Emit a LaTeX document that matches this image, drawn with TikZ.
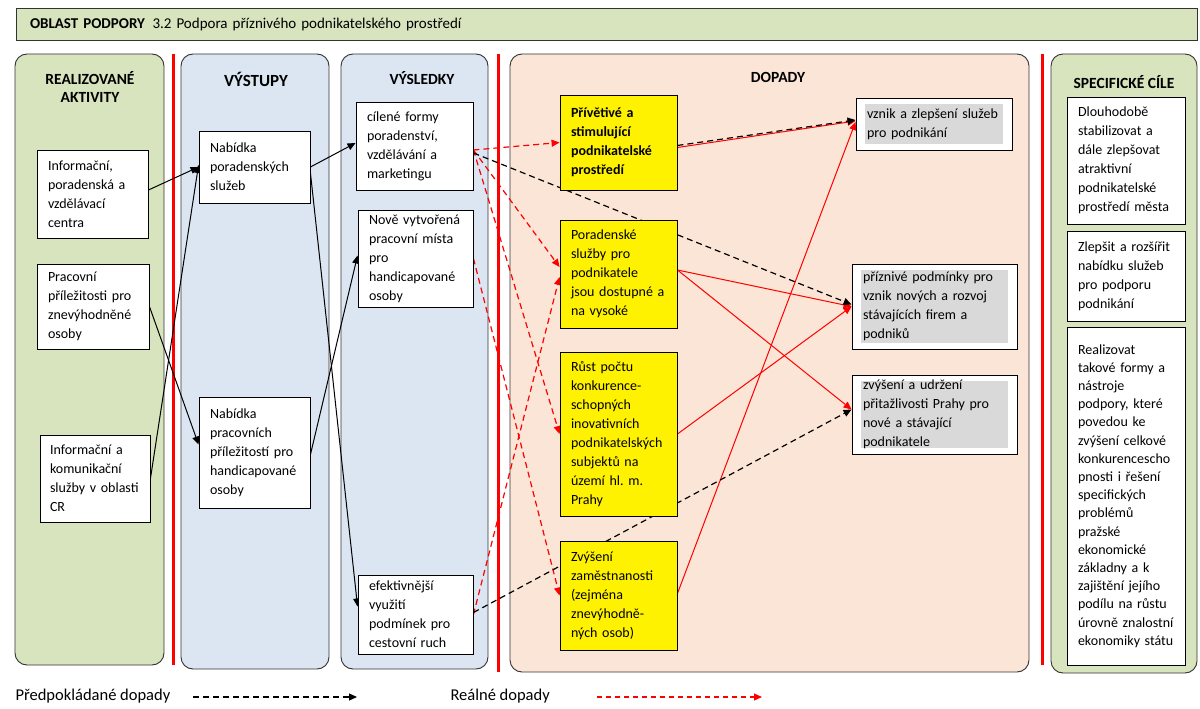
\documentclass[tikz,border=0pt]{standalone}
\usepackage{fontspec}
\setmainfont{Carlito}
\usetikzlibrary{arrows.meta}
\pgfdeclarelayer{bg}
\pgfdeclarelayer{lines}
\pgfsetlayers{bg,lines,main}
\definecolor{colgreen}{HTML}{D7E4BD}
\definecolor{colblue}{HTML}{DCE6F2}
\definecolor{colpeach}{HTML}{FBE5D6}
\definecolor{effgray}{HTML}{D9D9D9}

\begin{document}
\begin{tikzpicture}[x=1pt, y=-1pt,
  column/.style={draw=black!80, line width=0.9pt, rounded corners=12pt},
  redbar/.style={draw=red, line width=3pt},
  title/.style={font=\fontsize{15.5}{18}\selectfont\bfseries, align=center},
  header/.style={draw=black!80, line width=1pt, fill=colgreen, text width=1153pt, inner xsep=14pt, minimum height=32pt, align=left, font=\fontsize{15}{17}\selectfont},
  box/.style={rectangle, draw=black, line width=0.9pt, fill=white, inner xsep=11pt, inner ysep=3pt, align=left, font=\fontsize{14}{19}\selectfont},
  impact/.style={box, fill=yellow},
  effect/.style={box, path picture={\fill[effgray] ([shift={(9pt,-6pt)}]path picture bounding box.north west) rectangle ([shift={(-9pt,6pt)}]path picture bounding box.south east);}},
  arrow/.style={line width=1pt, -{Triangle[length=8pt, width=7pt]}},
  planned/.style={arrow, line width=1.2pt, dash pattern=on 6pt off 4pt},
  real/.style={arrow, red, line width=1.2pt, dash pattern=on 6pt off 4pt},
  realfull/.style={arrow, red},
  legend/.style={font=\fontsize{16.5}{19}\selectfont, anchor=west}
]
\useasboundingbox (0,0) rectangle (1200,709);

% header
\node[header] (hdr) at (606.5,25) {{\bfseries OBLAST PODPORY}\enspace 3.2 Podpora příznivého podnikatelského prostředí};

% columns
\begin{pgfonlayer}{bg}
\draw[column, fill=colgreen] (15,54) rectangle (164,665);
\draw[column, fill=colblue] (181,54) rectangle (329,669);
\draw[column, fill=colblue] (341,54) rectangle (488,669);
\draw[column, fill=colpeach] (510,54) rectangle (1029,672);
\draw[column, fill=colgreen] (1051,54) rectangle (1197,673);
\draw[redbar] (173,54) -- (173,665);
\draw[redbar] (498,54) -- (498,672);
\draw[redbar] (1042,54) -- (1042,665);
\end{pgfonlayer}

\node[title] (acttitle) at (90,87) {REALIZOVANÉ\\AKTIVITY};
\node[title, font=\fontsize{17}{18}\selectfont\bfseries] (outtitle) at (256,79) {VÝSTUPY};
\node[title] (restitle) at (422,78) {VÝSLEDKY};
\node[title] (imptitle) at (778,77) {DOPADY};
\node[title] (goaltitle) at (1124,82) {SPECIFICKÉ CÍLE};

% realizované aktivity
\node[box, text width=89pt, minimum height=88pt] (act1) at (92.5,194) {Informační,\\poradenská a\\vzdělávací\\centra};
\node[box, text width=90pt, minimum height=85pt] (act2) at (93,306.5) {Pracovní\\příležitosti pro\\znevýhodněné\\osoby};
\node[box, inner xsep=10pt, text width=90pt, minimum height=87pt] (act3) at (95,478.5) {Informační a\\komunikační\\služby v oblasti\\CR};

% výstupy
\node[box, text width=89pt, minimum height=72pt] (out1) at (254.5,167) {Nabídka\\poradenských\\služeb};
\node[box, text width=89pt, minimum height=111pt] (out2) at (254.5,452.5) {Nabídka\\pracovních\\příležitostí pro\\handicapované\\osoby};

% výsledky
\node[box, text width=95pt, minimum height=88pt] (res1) at (414.5,146) {cílené formy\\poradenství,\\vzdělávání a\\marketingu};
\node[box, text width=93pt, minimum height=97pt] (res2) at (415.5,258.5) {Nově vytvořená\\pracovní místa\\pro\\handicapované\\osoby};
\node[box, text width=93pt, minimum height=79pt] (res3) at (415.5,614.5) {efektivnější\\využití\\podmínek pro\\cestovní ruch};

% dopady
\node[impact, text width=95pt, minimum height=95pt, font=\fontsize{14}{19}\selectfont\bfseries] (imp1) at (618.5,142.5) {Přívětivé a\\stimulující\\podnikatelské\\prostředí};
\node[impact, text width=95pt, minimum height=108pt] (imp2) at (618.5,274) {Poradenské\\služby pro\\podnikatele\\jsou dostupné a\\na vysoké};
\node[impact, text width=95pt, minimum height=164pt] (imp3) at (618.5,434) {Růst počtu\\konkurence-\\schopných\\inovativních\\podnikatelských\\subjektů na\\území hl.\ m.\\Prahy};
\node[impact, text width=95pt, minimum height=109pt] (imp4) at (618.5,595.5) {Zvýšení\\zaměstnanosti\\(zejména\\znevýhodně-\\ných osob)};

\node[effect, text width=134pt, minimum height=52pt] (eff1) at (934,124) {vznik a zlepšení služeb\\pro podnikání\vphantom{p}};
\node[effect, text width=143pt, minimum height=85pt] (eff2) at (934.5,306.5) {příznivé podmínky pro\\vznik nových a rozvoj\\stávajících firem a\\podniků};
\node[effect, text width=143pt, minimum height=79pt] (eff3) at (934.5,414.5) {zvýšení a udržení\\přitažlivosti Prahy pro\\nové a stávající\\podnikatele};

% specifické cíle
\node[box, text width=96pt, minimum height=127pt] (goal1) at (1126,160.5) {Dlouhodobě\\stabilizovat a\\dále zlepšovat\\atraktivní\\podnikatelské\\prostředí města};
\node[box, text width=96pt, minimum height=90pt] (goal2) at (1126,276) {Zlepšit a rozšířit\\nabídku služeb\\pro podporu\\podnikání};
\node[box, text width=96pt, minimum height=338pt, font=\fontsize{14}{18.2}\selectfont] (goal3) at (1126,496) {Realizovat\\takové formy a\\nástroje\\podpory, které\\povedou ke\\zvýšení celkové\\konkurencescho\\pnosti i řešení\\specifických\\problémů\\pražské\\ekonomické\\základny a k\\zajištění jejího\\podílu na růstu\\úrovně znalostní\\ekonomiky státu};

% legend
\node[legend] (leg1) at (12,696) {Předpokládané dopady};
\node[legend] (leg2) at (447,696) {Reálné dopady};
\coordinate (leg1a) at (193,697);
\coordinate (leg1b) at (357,697);
\coordinate (leg2a) at (597,697);
\coordinate (leg2b) at (762,697);

\begin{pgfonlayer}{lines}
% výstupy
\draw[arrow] ([yshift=4pt]act1.east) -- (out1.west);
\draw[arrow] (act3.east) -- ([yshift=2pt]out1.west);
\draw[arrow] (act2.east) -- ([yshift=8pt]out2.west);
\draw[arrow] (out1.east) -- ([yshift=3pt]res1.west);
\draw[arrow] ([yshift=-6pt]out1.east) -- ([yshift=8pt]res3.west);
\draw[arrow] ([yshift=-2pt]out2.east) -- ([yshift=3pt]res2.west);
% reálné dopady
\draw[real] ([yshift=-4pt]res1.east) -- (imp1.west);
\draw[real] ([yshift=-4pt]res1.east) -- ([yshift=7pt]imp2.west);
\draw[real] ([yshift=-4pt]res1.east) -- (imp3.west);
\draw[real] (res2.east) -- (imp4.west);
\draw[real] (res3.east) -- ([yshift=-3pt]imp2.west);
\draw[realfull] ([yshift=-5pt]imp1.east) -- ([yshift=3pt]eff1.west);
\draw[realfull] ([yshift=4pt]imp2.east) -- (eff2.west);
\draw[realfull] ([yshift=4pt]imp2.east) -- ([yshift=5pt]eff3.west);
\draw[realfull] (imp3.east) -- (eff2.west);
\draw[realfull] ([yshift=2pt]imp4.east) -- ([yshift=2pt]eff1.west);
% předpokládané dopady
\draw[planned] ([yshift=-7pt]res1.east) -- ([yshift=2pt]eff2.west);
\draw[planned] ([yshift=-3pt]imp1.east) -- ([yshift=4pt]eff1.west);
\draw[planned] ([yshift=2pt]res3.east) -- ([yshift=5pt]eff3.west);
\end{pgfonlayer}

\draw[planned] (leg1a) -- (leg1b);
\draw[real, dash pattern=on 5pt off 4pt] (leg2a) -- (leg2b);
\end{tikzpicture}
\end{document}
